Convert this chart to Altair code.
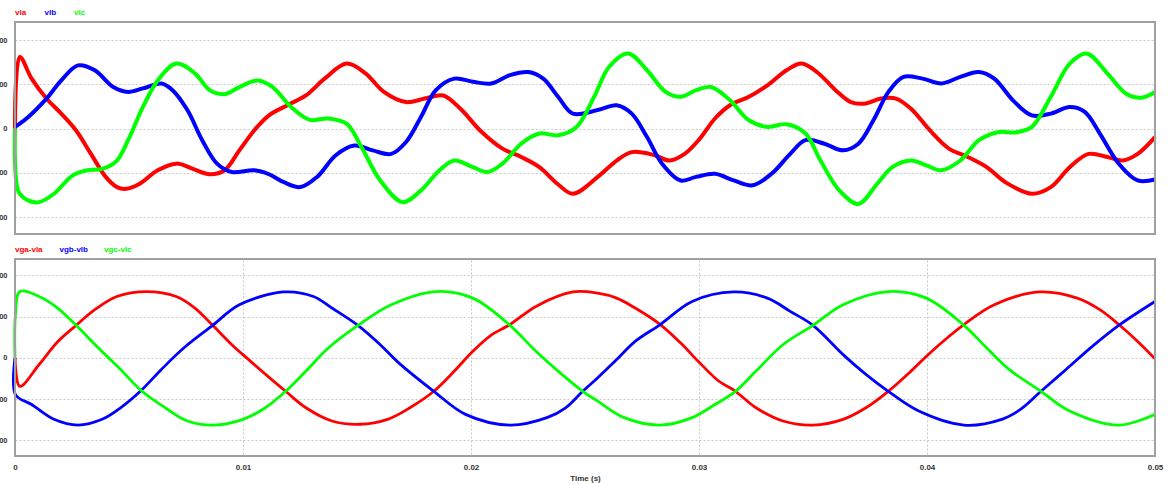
import altair as alt
import pandas as pd

# ---------------- data (time in ms, value) ----------------
top_names = ["vla", "vlb", "vlc"]
bot_names = ["vga-vla", "vgb-vlb", "vgc-vlc"]
colors = ["#ff0000", "#0000ff", "#00ff00"]
x_ticks = [0, 0.01, 0.02, 0.03, 0.04, 0.05]
y_ticks = [-200, -100, 0, 100, 200]

vla = [(0, 0), (0.21, 162), (0.73, 113), (1.38, 68), (2.03, 34), (2.68, -4), (3.33, -57),
       (3.98, -109), (4.47, -132), (4.88, -136), (5.45, -125), (6.26, -94), (7.07, -79),
       (7.72, -89), (8.54, -103), (9.19, -94), (9.84, -49), (10.49, -4), (11.14, 30),
       (11.95, 53), (12.76, 75), (13.58, 113), (14.55, 147), (15.37, 125), (16.18, 83),
       (17.15, 60), (17.97, 68), (18.78, 75), (19.59, 42), (20.4, -4), (21.38, -45),
       (22.2, -64), (23.0, -87), (23.8, -125), (24.47, -147), (25.56, -109), (26.39, -72),
       (27.05, -53), (28.05, -60), (28.7, -72), (29.37, -57), (30.03, -23), (30.7, 23),
       (31.36, 53), (32.19, 72), (33.0, 98), (33.84, 132), (34.5, 147), (35.17, 128),
       (35.99, 87), (36.66, 60), (37.32, 57), (37.98, 68), (38.64, 68), (39.3, 45),
       (40.13, -4), (40.96, -45), (41.79, -64), (42.62, -87), (43.44, -121), (44.6, -147),
       (45.43, -132), (46.26, -87), (47.09, -57), (47.91, -64), (48.58, -72), (49.24, -57),
       (50.0, -19)]

vlb = [(0, 4), (0.57, 26), (1.38, 68), (2.03, 109), (2.76, 143), (3.5, 132), (4.31, 94),
       (4.96, 83), (5.61, 91), (6.42, 102), (6.91, 87), (7.56, 42), (8.21, -26), (8.86, -79),
       (9.51, -98), (10.49, -94), (11.14, -103), (11.79, -121), (12.52, -132), (13.25, -109),
       (14.07, -60), (14.88, -38), (15.69, -49), (16.5, -57), (17.15, -30), (17.8, 26),
       (18.46, 87), (19.27, 113), (20.08, 106), (20.89, 102), (21.71, 121), (22.52, 128),
       (23.17, 113), (23.82, 72), (24.47, 34), (25.56, 42), (26.39, 53), (27.05, 34),
       (27.72, -19), (28.38, -79), (29.2, -117), (29.87, -109), (30.7, -102), (31.52, -117),
       (32.35, -128), (33.18, -102), (34.0, -57), (34.67, -26), (35.5, -34), (36.32, -49),
       (36.99, -34), (37.65, 19), (38.31, 83), (38.97, 117), (39.8, 113), (40.63, 102),
       (41.46, 117), (42.28, 128), (42.95, 113), (43.77, 64), (44.6, 30), (45.43, 34),
       (46.26, 49), (46.92, 38), (47.58, -11), (48.41, -79), (49.24, -117), (50.0, -115)]

vlc = [(0, 0), (0.16, -143), (0.57, -162), (1.06, -166), (1.71, -147), (2.52, -106),
       (3.17, -94), (3.82, -91), (4.47, -72), (4.96, -26), (5.61, 49), (6.26, 109),
       (7.07, 147), (7.89, 125), (8.54, 87), (9.19, 78), (9.84, 94), (10.65, 109),
       (11.3, 94), (12.11, 49), (12.93, 20), (13.74, 23), (14.55, 11), (15.2, -42),
       (16.02, -117), (17.0, -166), (17.8, -140), (18.62, -94), (19.27, -72), (20.08, -87),
       (20.73, -98), (21.38, -79), (22.2, -34), (23.0, -11), (23.82, -15), (24.63, 4),
       (25.4, 72), (26.06, 140), (26.89, 170), (27.72, 132), (28.54, 83), (29.2, 72),
       (29.87, 87), (30.53, 94), (31.36, 64), (32.19, 19), (33.0, 4), (33.84, 10),
       (34.67, -11), (35.33, -72), (36.16, -140), (36.99, -170), (37.81, -125), (38.48, -87),
       (39.3, -72), (39.97, -83), (40.63, -94), (41.46, -72), (42.28, -26), (43.11, -8),
       (43.94, -8), (44.6, 4), (45.43, 72), (46.26, 147), (47.0, 170), (47.91, 125),
       (48.74, 79), (49.4, 70), (50.0, 83)]

vga_vla = [(0, 0), (0.21, -69), (1.06, -16), (1.87, 39), (2.68, 79), (3.5, 117), (4.47, 149),
           (5.77, 161), (7.07, 149), (7.89, 121), (8.67, 79), (9.51, 32), (10.16, 0),
           (11.87, -81), (12.76, -121), (13.9, -153), (15.12, -161), (16.34, -149),
           (17.32, -121), (18.37, -81), (19.27, -32), (20.08, 16), (20.9, 56), (21.71, 81),
           (22.85, 125), (24.47, 160), (25.56, 157), (26.39, 145), (27.2, 121), (28.3, 81),
           (29.2, 36), (30.03, -12), (30.86, -56), (31.6, -81), (32.5, -121), (33.68, -153),
           (35.0, -163), (36.32, -149), (37.32, -121), (38.3, -81), (39.3, -32), (40.13, 12),
           (40.96, 52), (41.62, 81), (42.95, 129), (44.93, 160), (46.59, 145), (47.58, 117),
           (48.41, 81), (49.24, 40), (50.0, -2)]

vgb_vlb = [(0, 0), (0.02, -89), (0.73, -113), (1.71, -149), (2.76, -163), (3.82, -149),
           (4.63, -121), (5.53, -79), (6.42, -28), (7.4, 24), (8.67, 79), (9.84, 129),
           (11.79, 160), (13.09, 149), (13.9, 121), (15.04, 79), (16.02, 32), (16.83, -12),
           (18.37, -81), (19.76, -137), (21.71, -163), (23.33, -145), (24.15, -121),
           (24.9, -81), (25.56, -48), (26.39, -4), (27.2, 40), (28.3, 81), (29.7, 137),
           (31.52, 160), (33.0, 145), (34.0, 113), (35.0, 79), (36.32, 8), (37.32, -40),
           (38.3, -81), (39.64, -129), (41.62, -163), (43.28, -149), (44.1, -125), (45.0, -81),
           (46.1, -28), (47.25, 28), (48.41, 79), (50.0, 137)]

vgc_vlc = [(0, 0), (0.02, 105), (0.21, 161), (1.06, 149), (1.87, 121), (2.68, 79), (3.66, 24),
           (4.63, -28), (5.53, -79), (6.59, -121), (7.56, -153), (8.7, -163), (10.0, -149),
           (10.98, -121), (11.87, -81), (12.76, -32), (13.74, 24), (15.04, 79), (16.5, 129),
           (18.46, 161), (20.08, 145), (21.71, 79), (22.85, 16), (23.82, -32), (24.9, -81),
           (25.56, -105), (26.72, -145), (28.3, -163), (29.7, -145), (30.7, -113), (31.6, -81),
           (32.5, -32), (33.68, 32), (35.0, 79), (36.32, 129), (38.3, 161), (39.97, 145),
           (41.62, 79), (42.62, 24), (43.6, -28), (45.0, -81), (46.26, -129), (48.41, -163),
           (50.0, -137)]


def to_frame(series_list, names):
    rows = []
    for name, pts in zip(names, series_list):
        for t, v in pts:
            rows.append({"t": t / 1000.0, "v": v, "series": name})
    return pd.DataFrame(rows)


top_df = to_frame([vla, vlb, vlc], top_names)
bot_df = to_frame([vga_vla, vgb_vlb, vgc_vlc], bot_names)

# ---------------- layout ----------------
W = 1140
H = 434
TOP_H = 212
BOT_Y0 = 237
FONT = "Liberation Sans"
GRID = "#c8c8c8"
FRAME = "#a0a0a0"
TXT = "#333333"

color_scale = alt.Scale(domain=top_names + bot_names, range=colors + colors)

x_enc = alt.X(
    "t:Q",
    scale=alt.Scale(domain=[0, 0.05], nice=False, zero=False),
    axis=alt.Axis(values=x_ticks, format="~g", title="Time (s)", grid=True,
                  gridDash=[2, 2], gridColor=GRID, gridWidth=1, ticks=False, domain=False,
                  labelPadding=7, titlePadding=3, labelFontSize=8, titleFontSize=8,
                  labelFontWeight="bold", titleFontWeight="bold", labelColor=TXT,
                  titleColor=TXT, labelFlush=False),
)


def y_axis():
    return alt.Axis(values=y_ticks, title=None, orient="left", grid=True, gridDash=[2, 2],
                    gridColor=GRID, gridWidth=1, ticks=False, domain=False, labelPadding=8,
                    labelFontSize=7.5, labelFontWeight="bold", labelColor=TXT)


top_lines = alt.Chart(top_df).mark_line(strokeWidth=4, interpolate="catmull-rom").encode(
    x=x_enc,
    y=alt.Y("v:Q", scale=alt.Scale(domain=[-238, 241], range=[TOP_H, 0], nice=False, zero=False),
            axis=y_axis()),
    color=alt.Color("series:N", scale=color_scale, legend=None),
)

bot_lines = alt.Chart(bot_df).mark_line(strokeWidth=2.8, interpolate="catmull-rom").encode(
    x=x_enc,
    y=alt.Y("v:Q", scale=alt.Scale(domain=[-238, 240], range=[H, BOT_Y0], nice=False, zero=False),
            axis=y_axis()),
    color=alt.Color("series:N", scale=color_scale, legend=None),
)

dummy = pd.DataFrame({"d": [0]})

gap = alt.Chart(dummy).mark_rect(color="white").encode(
    x=alt.value(-1), x2=alt.value(W + 1), y=alt.value(TOP_H + 1), y2=alt.value(BOT_Y0 - 1))

frame_top = alt.Chart(dummy).mark_rect(fillOpacity=0, stroke=FRAME, strokeWidth=2).encode(
    x=alt.value(0), x2=alt.value(W), y=alt.value(0), y2=alt.value(TOP_H))
frame_bot = alt.Chart(dummy).mark_rect(fillOpacity=0, stroke=FRAME, strokeWidth=2).encode(
    x=alt.value(0), x2=alt.value(W), y=alt.value(BOT_Y0), y2=alt.value(H))

legend_layers = []
for i, (name, col) in enumerate(zip(top_names, colors)):
    legend_layers.append(
        alt.Chart(dummy).mark_text(text=name, color=col, fontSize=8, fontWeight="bold",
                                   align="left", baseline="middle", font=FONT)
        .encode(x=alt.value(i * 29.5), y=alt.value(-9.5)))
for i, (name, col) in enumerate(zip(bot_names, colors)):
    legend_layers.append(
        alt.Chart(dummy).mark_text(text=name, color=col, fontSize=8, fontWeight="bold",
                                   align="left", baseline="middle", font=FONT)
        .encode(x=alt.value(i * 44.5), y=alt.value(BOT_Y0 - 9.5)))

chart = alt.layer(top_lines, bot_lines, gap, frame_top, frame_bot, *legend_layers).resolve_scale(
    y="independent"
).resolve_axis(
    y="independent"
).properties(
    width=W, height=H,
    padding={"left": 15, "top": 22, "right": 14, "bottom": 28},
    autosize=alt.AutoSizeParams(type="none"),
    background="white",
).configure_view(
    strokeWidth=0
).configure(
    font=FONT
)

chart.save("out.html", embed_options={"renderer": "svg", "actions": False})
